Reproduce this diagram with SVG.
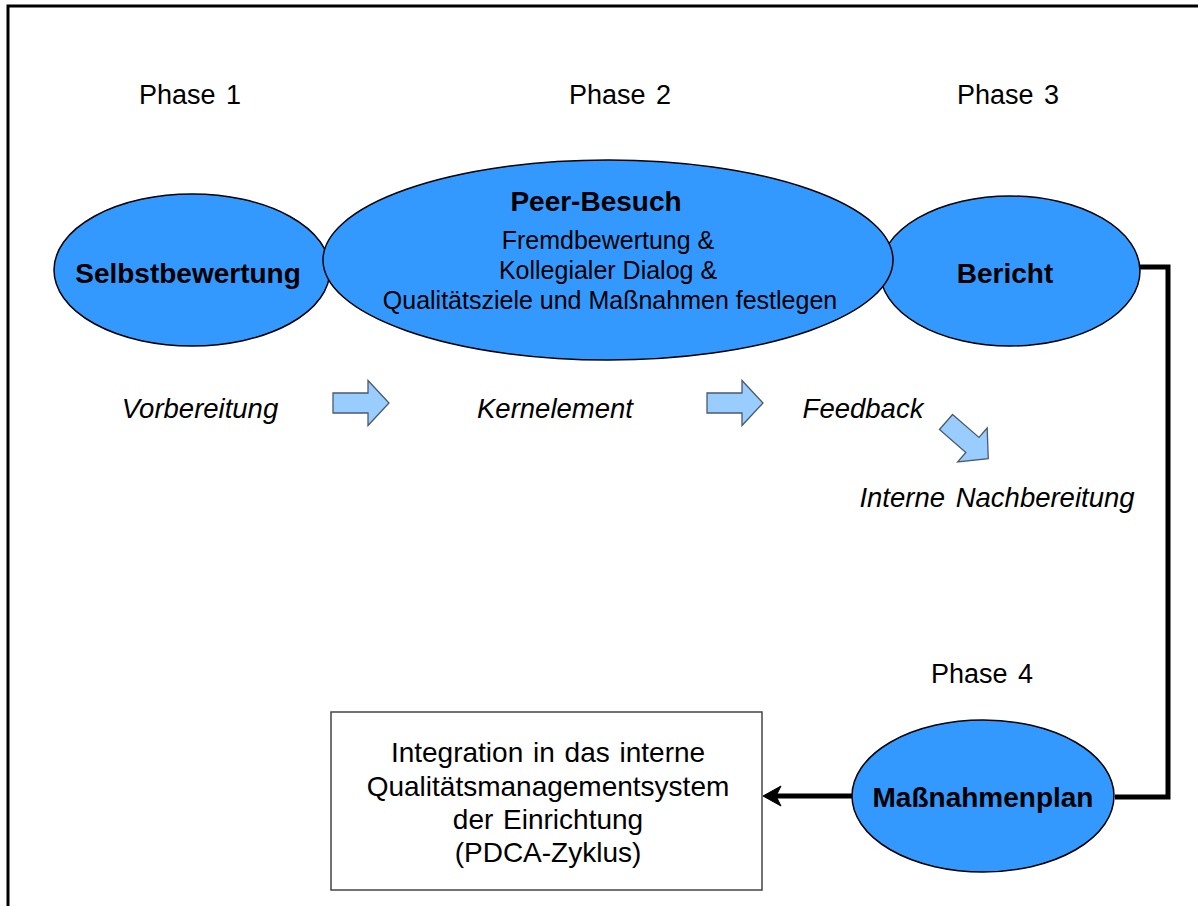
<svg xmlns="http://www.w3.org/2000/svg" width="1198" height="906" viewBox="0 0 1198 906">
<defs>
<style>
.t{font-family:"Liberation Sans",Arial,sans-serif;fill:#000;text-anchor:middle}
.ph{font-size:27px;word-spacing:3px}
.b{font-weight:bold;font-size:28px}
.n{font-size:25px}
.i{font-style:italic;font-size:27.5px;word-spacing:3px}
.bx{font-size:28px;word-spacing:2px}
.ell{fill:#3399FF;stroke:#000;stroke-width:1.5}
.blk{fill:#99CCFF;stroke:#4a5a6a;stroke-width:1.3}
.con{fill:none;stroke:#000;stroke-width:5}
</style>
<path id="barrow" d="M0,-10 H35 V-22.5 L56,0 L35,22.5 V10 H0 Z"/>
</defs>
<rect width="1198" height="906" fill="#fff"/>
<path d="M8,906 V6 H1198" fill="none" stroke="#000" stroke-width="3"/>

<g id="phases">
<text class="t ph" x="190" y="104">Phase 1</text>
<text class="t ph" x="620" y="104">Phase 2</text>
<text class="t ph" x="1008" y="104">Phase 3</text>
<text class="t ph" x="982" y="683">Phase 4</text>
</g>

<g id="connectors">
<path class="con" d="M1140,267 H1168 V797 H1115"/>
<path class="con" d="M852,796 H776"/>
<polygon points="763,796 781,786 776,796 781,806" fill="#000" stroke="#000" stroke-width="1"/>
</g>

<g id="selbstbewertung">
<ellipse class="ell" cx="192" cy="270" rx="138" ry="76"/>
<text class="t b" x="188" y="283">Selbstbewertung</text>
</g>
<g id="bericht">
<ellipse class="ell" cx="1010" cy="271" rx="130" ry="75"/>
<text class="t b" x="1005" y="283">Bericht</text>
</g>
<g id="peer-besuch">
<ellipse class="ell" cx="608" cy="260" rx="285" ry="100"/>
<text class="t b" x="596" y="211">Peer-Besuch</text>
<text class="t n" x="608" y="249">Fremdbewertung &amp;</text>
<text class="t n" x="608" y="279">Kollegialer Dialog &amp;</text>
<text class="t n" x="610" y="309">Qualitätsziele und Maßnahmen festlegen</text>
</g>

<g id="labels">
<text class="t i" x="200" y="418">Vorbereitung</text>
<text class="t i" x="555" y="418">Kernelement</text>
<text class="t i" x="863" y="418">Feedback</text>
<text class="t i" x="997" y="507">Interne Nachbereitung</text>
</g>

<g id="block-arrows">
<use href="#barrow" class="blk" transform="translate(333,403)"/>
<use href="#barrow" class="blk" transform="translate(707,403)"/>
<use href="#barrow" class="blk" transform="translate(946,422) rotate(41)"/>
</g>

<g id="massnahmenplan">
<ellipse class="ell" cx="983" cy="796" rx="131" ry="76"/>
<text class="t b" x="983" y="807">Maßnahmenplan</text>
</g>

<g id="integration">
<rect x="331" y="712" width="431" height="178" fill="#fff" stroke="#444" stroke-width="1.5"/>
<text class="t bx" x="548" y="762">Integration in das interne</text>
<text class="t bx" x="548" y="796">Qualitätsmanagementsystem</text>
<text class="t bx" x="548" y="829">der Einrichtung</text>
<text class="t bx" x="548" y="862">(PDCA-Zyklus)</text>
</g>
</svg>
